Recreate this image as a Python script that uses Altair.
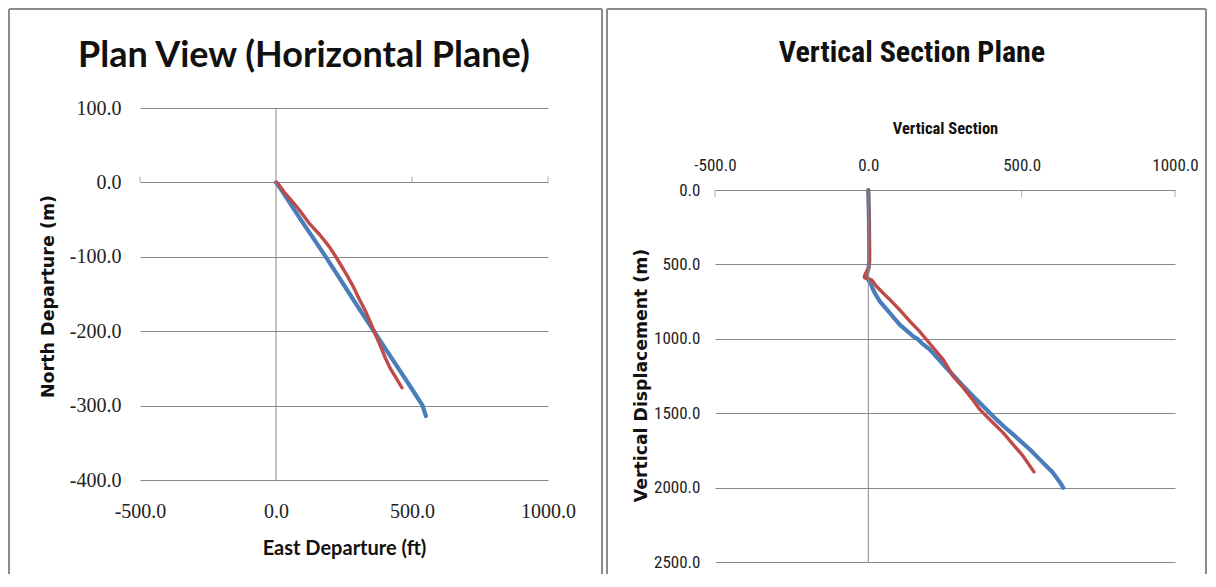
import altair as alt
import pandas as pd

# ---------------- data ----------------
# Plan view (east departure, north departure)
plan_blue_east = [0, 25, 55, 91, 137, 183, 227, 271, 315, 360, 405, 450, 495, 539, 551]
plan_blue_north = [0, -13, -30, -50, -75, -100, -125, -150, -175, -200, -225, -250, -275, -300, -314]
plan_red_east = [0, 4, 14, 30, 61, 92, 122, 160, 195, 220, 235, 258, 281, 305, 329, 348, 366, 384, 402, 420, 442, 463]
plan_red_north = [0, 0, -5, -13, -26, -40, -55, -70, -86, -100, -109, -123, -138, -156, -173, -189, -205, -220, -236, -250, -263, -276]

# Vertical section (section, vertical displacement)
vs_blue_section = [0, 2, 3, 3, 1, -3, -5, -2, 0, 8, 16, 26, 38, 55, 71, 87, 103, 125, 147, 160, 175, 201, 228, 255,
                   283, 310, 337, 364, 391, 397, 418, 445, 473, 500, 527, 554, 581, 600, 614, 625, 636]
vs_blue_depth = [0, 200, 400, 480, 520, 550, 575, 595, 604, 630, 671, 710, 749, 790, 828, 868, 906, 945, 984, 1000, 1030, 1073, 1135, 1197,
                 1258, 1319, 1375, 1431, 1487, 1500, 1543, 1594, 1644, 1694, 1744, 1800, 1856, 1895, 1934, 1965, 2001]
vs_red_section = [0, 1, 2, 2, 3, 3, 1, -5, -10, -13, -12, 0, 11, 27, 48, 71, 100, 136, 165, 190, 218, 244, 262, 277,
                  310, 337, 364, 400, 440, 472, 505, 540]
vs_red_depth = [0, 100, 200, 300, 400, 480, 520, 545, 565, 580, 590, 597, 604, 648, 692, 738, 800, 883, 945, 1006, 1075, 1140, 1200, 1252,
                1330, 1400, 1476, 1550, 1632, 1710, 1789, 1894]

x_ticks = [-500, 0, 500, 1000]
x_minor_marks = [-500, 500, 1000]
plan_y_ticks = [-400, -300, -200, -100, 0, 100]
vs_y_ticks = [0, 500, 1000, 1500, 2000, 2500]
vs_depth_range = [0, 2500]

plan_title = "Plan View (Horizontal Plane)"
vs_title = "Vertical Section Plane"

BLUE = "#4A7EBB"
RED = "#BE4B48"
GRID = "#898989"
FRAME = "#8C8C8C"
NARROW = "Liberation Sans Narrow, Roboto Condensed, Arial Narrow, Roboto"
LABEL_EXPR = "replace(format(datum.value, '.1f'), '\u2212', '-')"


def series(xs, ys):
    return pd.DataFrame({"x": xs, "y": ys, "i": list(range(len(xs)))})


one = pd.DataFrame({"k": [0]})


def frame(left, right, top, bottom):
    base = alt.Chart(one).mark_rule(color=FRAME, strokeWidth=2)
    return [
        base.encode(x=alt.value(left), y=alt.value(top), y2=alt.value(bottom)),
        base.encode(x=alt.value(right), y=alt.value(top), y2=alt.value(bottom)),
        base.encode(x=alt.value(left), x2=alt.value(right), y=alt.value(top)),
    ]


# ---------------- left panel ----------------
PW, PH = 408, 372
px_scale = alt.Scale(domain=[-500, 1000], nice=False, zero=False)
py_scale = alt.Scale(domain=[-400, 100], nice=False, zero=False)

plan_x_axis = alt.Axis(values=x_ticks, labelExpr=LABEL_EXPR, domain=False, ticks=False, grid=False,
                       labelFont="Liberation Serif", labelFontSize=20, labelColor="#222222",
                       labelPadding=21, labelFlush=False, labelOverlap=False,
                       title="East Departure (ft)", titleFont="Lato", titleFontSize=20,
                       titleFontWeight="bold", titleColor="#111111", titleX=204, titleY=68,
                       titleBaseline="middle", titleAlign="center")
plan_y_axis = alt.Axis(values=plan_y_ticks, labelExpr=LABEL_EXPR, domain=False, ticks=False, grid=True,
                       gridColor=GRID, gridWidth=1,
                       labelFont="Liberation Serif", labelFontSize=20, labelColor="#222222",
                       labelPadding=19, labelFlush=False, labelOverlap=False,
                       title="North Departure (m)", titleFont="DejaVu Sans", titleFontSize=17.5,
                       titleFontWeight="bold", titleColor="#111111", titleAngle=-90,
                       titleX=-91.5, titleY=188, titleBaseline="middle", titleAlign="center")

PX = alt.X("x:Q", scale=px_scale, axis=plan_x_axis)
PY = alt.Y("y:Q", scale=py_scale, axis=plan_y_axis)

plan_blue = alt.Chart(series(plan_blue_east, plan_blue_north)).mark_line(
    color=BLUE, strokeWidth=4.2, strokeCap="round", strokeJoin="round").encode(x=PX, y=PY, order="i:Q")
plan_red = alt.Chart(series(plan_red_east, plan_red_north)).mark_line(
    color=RED, strokeWidth=3.4, strokeCap="round", strokeJoin="round").encode(x=PX, y=PY, order="i:Q")
plan_vline = alt.Chart(one).mark_rule(color=GRID, strokeWidth=1).encode(
    x=alt.XDatum(0, scale=px_scale, axis=plan_x_axis))
plan_ticks = alt.Chart(pd.DataFrame({"x": x_minor_marks})).mark_tick(
    orient="vertical", size=6, thickness=1, color=GRID, yOffset=-3).encode(
    x=PX, y=alt.YDatum(0, scale=py_scale, axis=plan_y_axis))
plan_head = alt.Chart(one).mark_text(font="Lato", fontSize=36, fontWeight="bold",
                                     color="#111111", align="center", baseline="middle").encode(
    x=alt.value(164), y=alt.value(-52), text=alt.value(plan_title))

left = alt.layer(
    plan_blue, plan_red, plan_vline, plan_ticks, plan_head,
    *frame(-131, 462, -99, 466),
).properties(width=PW, height=PH)

# ---------------- right panel ----------------
# plot area shares the left panel's top; the depth axis starts lower inside it
VW, VH = 460, 454
vx_scale = alt.Scale(domain=[-500, 1000], nice=False, zero=False)
vy_scale = alt.Scale(domain=[-551.8, 2500], nice=False, zero=False, reverse=True)

vs_x_axis = alt.Axis(orient="top", offset=-82, values=x_ticks, labelExpr=LABEL_EXPR, domain=False,
                     ticks=False, grid=False, labelFont=NARROW, labelFontSize=17, labelColor="#222222",
                     labelPadding=16, labelFlush=False, labelOverlap=False,
                     title="Vertical Section", titleFont=NARROW, titleFontSize=16.5,
                     titleFontWeight="bold", titleColor="#111111", titleX=230, titleY=-62,
                     titleBaseline="middle", titleAlign="center")
vs_y_axis = alt.Axis(values=vs_y_ticks, labelExpr=LABEL_EXPR, domain=False, ticks=False, grid=True,
                     gridColor=GRID, gridWidth=1,
                     labelFont=NARROW, labelFontSize=17, labelColor="#222222",
                     labelPadding=15, labelFlush=False, labelOverlap=False,
                     title="Vertical Displacement (m)", titleFont="DejaVu Sans", titleFontSize=17.3,
                     titleFontWeight="bold", titleColor="#111111", titleAngle=-90,
                     titleX=-74, titleY=267, titleBaseline="middle", titleAlign="center")

VX = alt.X("x:Q", scale=vx_scale, axis=vs_x_axis)
VY = alt.Y("y:Q", scale=vy_scale, axis=vs_y_axis)

vs_blue = alt.Chart(series(vs_blue_section, vs_blue_depth)).mark_line(
    color=BLUE, strokeWidth=4.2, strokeCap="round", strokeJoin="round").encode(x=VX, y=VY, order="i:Q")
vs_red = alt.Chart(series(vs_red_section, vs_red_depth)).mark_line(
    color=RED, strokeWidth=3.4, strokeCap="round", strokeJoin="round").encode(x=VX, y=VY, order="i:Q")
vs_vline = alt.Chart(one).mark_rule(color=GRID, strokeWidth=1).encode(
    x=alt.XDatum(0, scale=vx_scale, axis=vs_x_axis),
    y=alt.YDatum(vs_depth_range[0], scale=vy_scale, axis=vs_y_axis),
    y2=alt.Y2Datum(vs_depth_range[1]))
vs_ticks = alt.Chart(pd.DataFrame({"x": x_minor_marks})).mark_tick(
    orient="vertical", size=7, thickness=1, color=GRID, yOffset=3.5).encode(
    x=VX, y=alt.YDatum(0, scale=vy_scale, axis=vs_y_axis))
vs_head = alt.Chart(one).mark_text(font=NARROW, fontSize=30, fontWeight="bold",
                                   color="#111111", align="center", baseline="middle").encode(
    x=alt.value(197), y=alt.value(-55), text=alt.value(vs_title))

right = alt.layer(
    vs_blue, vs_red, vs_vline, vs_ticks, vs_head,
    *frame(-108, 491, -99, 466),
).properties(width=VW, height=VH)

chart = alt.hconcat(left, right, spacing=3).properties(padding=0).configure_view(strokeWidth=0)

chart.save("out.html", embed_options={"renderer": "svg", "actions": False})
